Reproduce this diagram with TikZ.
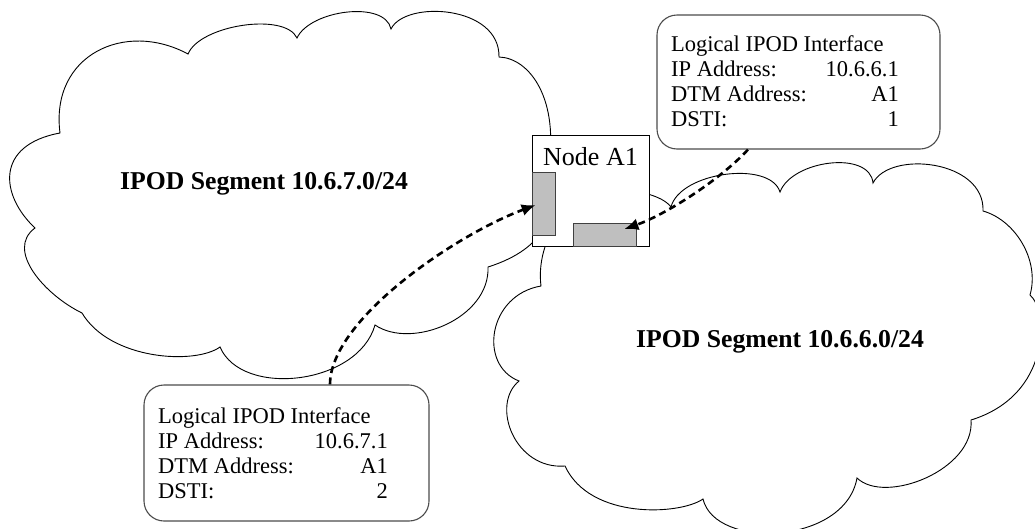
\documentclass[tikz,border=0pt]{standalone}
\usepackage{fontspec}
\setmainfont{Liberation Serif}
\usetikzlibrary{arrows.meta,calc}
\tikzset{
  cloudline/.style={draw=black, line width=0.9pt, fill=white, line join=miter},
  ifbox/.style={draw=black!70, line width=1.1pt, rounded corners=20pt, fill=white, inner sep=0pt},
  ifline/.style={inner sep=0pt, font=\fontsize{22.5}{25}\selectfont},
  segtitle/.style={inner sep=0pt, font=\fontsize{25.7}{28}\selectfont\bfseries},
  nodebox/.style={draw=black, line width=1pt, fill=white, inner sep=0pt},
  portbox/.style={draw=black!75, line width=0.8pt, fill=black!25, inner sep=0pt},
  link/.style={line width=2.6pt, dash pattern=on 7pt off 4.5pt, -{Latex[length=14pt,width=12pt]}},
}
\begin{document}
\begin{tikzpicture}[x=1pt,y=-1pt]
\clip (0,0) rectangle (1035,528);

% segment 10.6.7.0/24
\draw[cloudline] (188,54)
 .. controls (200,25) and (285,12) .. (297,38)
 .. controls (310,10) and (385,0) .. (391,29)
 .. controls (405,0) and (500,5) .. (499,57)
 .. controls (530,58) and (560,100) .. (548,170)
 .. controls (560,210) and (548,248) .. (488,267)
 .. controls (490,318) and (412,350) .. (375,325)
 .. controls (358,385) and (242,398) .. (220,347)
 .. controls (195,365) and (110,360) .. (82,313)
 .. controls (45,295) and (5,250) .. (35,228)
 .. controls (0,195) and (-5,145) .. (60,133)
 .. controls (50,55) and (125,20) .. (188,54) -- cycle;

% segment 10.6.6.0/24
\draw[cloudline] (541,286)
 .. controls (535,240) and (570,185) .. (620,190)
 .. controls (635,190) and (662,195) .. (671,207)
 .. controls (680,172) and (770,160) .. (780,192)
 .. controls (792,160) and (870,150) .. (873,183)
 .. controls (890,150) and (985,160) .. (983,211)
 .. controls (1015,220) and (1040,260) .. (1030,295)
 .. controls (1048,310) and (1052,395) .. (971,420)
 .. controls (975,470) and (885,505) .. (857,478)
 .. controls (845,545) and (715,550) .. (703,499)
 .. controls (680,515) and (590,520) .. (565,466)
 .. controls (515,470) and (490,405) .. (519,381)
 .. controls (478,365) and (488,295) .. (541,286) -- cycle;

\node[segtitle, anchor=base west] (seg7) at (120,189.5) {IPOD Segment 10.6.7.0/24};
\node[segtitle, anchor=base west] (seg6) at (636,347) {IPOD Segment 10.6.6.0/24};

% the DTM node and its two interfaces
\node[nodebox, minimum width=117pt, minimum height=111pt] (nodeA1) at (590.5,190.5) {};
\node[inner sep=0pt, font=\fontsize{26}{30}\selectfont, anchor=base west] (nodeA1lbl) at (543,165) {Node A1};
\node[portbox, minimum width=23pt, minimum height=63pt] (port1) at (543.5,203.5) {};
\node[portbox, minimum width=63pt, minimum height=23pt] (port2) at (604.5,234.5) {};

% interface description, 10.6.7.1
\node[ifbox, minimum width=285pt, minimum height=136pt] (ifb) at (286.5,453) {};
\node[ifline, anchor=base west] (ifb1) at (158,423.5) {Logical IPOD Interface};
\node[ifline, anchor=base west] (ifb2) at (158,448.5) {IP Address:};
\node[ifline, anchor=base east] (ifb2v) at (388,448.5) {10.6.7.1};
\node[ifline, anchor=base west] (ifb3) at (158,473.5) {DTM Address:};
\node[ifline, anchor=base east] (ifb3v) at (388,473.5) {A1};
\node[ifline, anchor=base west] (ifb4) at (158,498.5) {DSTI:};
\node[ifline, anchor=base east] (ifb4v) at (388,498.5) {2};

% interface description, 10.6.6.1
\node[ifbox, minimum width=283pt, minimum height=134pt] (ift) at (798.5,82) {};
\node[ifline, anchor=base west] (ift1) at (671,51.5) {Logical IPOD Interface};
\node[ifline, anchor=base west] (ift2) at (671,76.5) {IP Address:};
\node[ifline, anchor=base east] (ift2v) at (899,76.5) {10.6.6.1};
\node[ifline, anchor=base west] (ift3) at (671,101.5) {DTM Address:};
\node[ifline, anchor=base east] (ift3v) at (899,101.5) {A1};
\node[ifline, anchor=base west] (ift4) at (671,126.5) {DSTI:};
\node[ifline, anchor=base east] (ift4v) at (899,126.5) {1};

% links from the descriptions to the interfaces
\coordinate (s1) at ($(ifb.north)+(43.5,0)$);
\coordinate (s2) at ($(ift.south)+(-50.5,0)$);
\draw[link] (s1) .. controls (330,320) and (455,235) .. ([xshift=4pt,yshift=-1.5pt]port1.west);
\draw[link] (s2) .. controls (720,180) and (665,215) .. ([xshift=-12pt,yshift=5.5pt]port2.east);
\end{tikzpicture}
\end{document}
